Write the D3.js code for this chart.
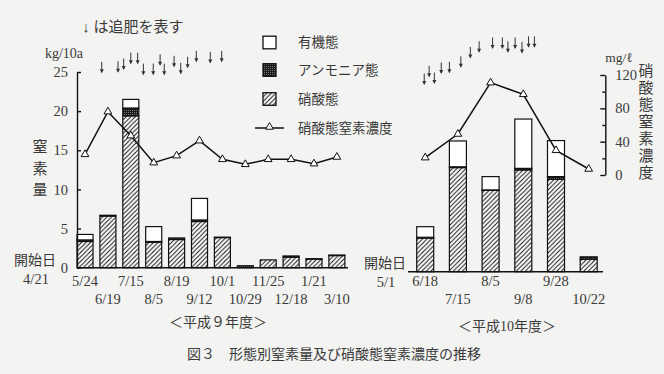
<!DOCTYPE html>
<html>
<head>
<meta charset="utf-8">
<script src="https://cdn.jsdelivr.net/npm/d3@7"></script>
<style>
  body { margin: 0; background: #f3f3f1; }
  svg { display: block; }
  text { font-family: "Liberation Serif", "Noto Sans CJK JP", serif; fill: #3a3a3a; }
</style>
</head>
<body>
<svg id="chart" width="664" height="374"></svg>
<script>
// 平成9年度
var datesH9 = ["5/24","6/19","7/15","8/5","8/19","9/12","10/1","10/29","11/25","12/18","1/21","3/10"];
var nitrateH9 = [3.35, 6.6, 19.4, 3.25, 3.6, 5.9, 3.85, 0, 1.0, 1.35, 1.1, 1.55];
var ammoniumH9 = [0.2, 0.1, 1.0, 0.1, 0.2, 0.2, 0.05, 0.25, 0, 0.15, 0.05, 0.07];
var organicH9 = [0.7, 0, 1.1, 1.9, 0, 2.75, 0, 0, 0, 0, 0, 0];
var concH9 = [24.8, 76, 47.2, 14.8, 23.2, 41.2, 18.8, 12.8, 18.8, 18.8, 13.6, 21.6];
// 追肥 (bar index position, height in kg units)
var fertPosH9 = [0.73, 1.44, 1.69, 2.0, 2.30, 2.55, 2.98, 3.28, 3.46, 3.89, 4.18, 4.48, 4.86, 5.47, 5.97];
var fertLvlH9 = [24.83, 24.9, 25.25, 26.0, 26.0, 24.6, 24.6, 25.8, 24.6, 25.6, 24.7, 25.47, 26.23, 26.1, 26.23];

// 平成10年度
var datesH10 = ["6/18","7/15","8/5","9/8","9/28","10/22"];
var nitrateH10 = [4.3, 13.3, 10.4, 13.0, 11.8, 1.6];
var ammoniumH10 = [0.1, 0.1, 0.05, 0.2, 0.35, 0.3];
var organicH10 = [1.35, 3.3, 1.7, 6.3, 4.6, 0];
var concH10 = [20.8, 49.2, 110.8, 96.8, 29.6, 7.2];
var fertPosH10 = [-0.03, 0.12, 0.28, 0.49, 0.74, 1.09, 1.38, 1.65, 2.06, 2.36, 2.53, 2.75, 2.96, 3.16, 3.34];
var fertLvlH10 = [23.84, 24.83, 23.97, 25.25, 25.34, 26.05, 27.25, 27.97, 28.44, 28.44, 27.97, 28.44, 27.89, 28.6, 28.6];

var kgTicks = [0, 5, 10, 15, 20, 25];
var concTicks = [0, 40, 80, 120];
var concMinor = [20, 60, 100];
var legendItems = ["有機態", "アンモニア態", "硝酸態", "硝酸態窒素濃度"];

var svg = d3.select('#chart');
var defs = svg.append('defs');

var hatch = defs.append('pattern').attr('id', 'hatch')
  .attr('patternUnits', 'userSpaceOnUse').attr('width', 4.5).attr('height', 4.5);
hatch.append('rect').attr('width', 4.5).attr('height', 4.5).attr('fill', '#fff');
hatch.append('path').attr('d', 'M-1,1 l2,-2 M0,4.5 l4.5,-4.5 M3.5,5.5 l2,-2')
  .attr('stroke', '#111').attr('stroke-width', 1);

var dots = defs.append('pattern').attr('id', 'dots')
  .attr('patternUnits', 'userSpaceOnUse').attr('width', 2).attr('height', 2);
dots.append('rect').attr('width', 2).attr('height', 2).attr('fill', '#1a1a1a');
dots.append('rect').attr('width', 1).attr('height', 1).attr('fill', '#777');

var fills = { nitrate: 'url(#hatch)', ammonium: 'url(#dots)', organic: '#fff' };
var keys = ['nitrate', 'ammonium', 'organic'];

var conc = d3.scaleLinear().domain([0, 120]).range([175, 75]);

function panel(dates, nitrate, ammonium, organic, cc, fertPos, fertLvl, xr, base, padIn, axisLine) {
  var x = d3.scaleBand().domain(dates).range(xr).paddingInner(padIn).paddingOuter(0);
  var y = d3.scaleLinear().domain([0, 25]).range([base, base - 195.7]);
  var rows = dates.map((d, i) => ({ date: d, nitrate: nitrate[i], ammonium: ammonium[i], organic: organic[i] }));
  var series = d3.stack().keys(keys)(rows);
  var g = svg.append('g');

  g.selectAll('g.s').data(series).enter().append('g')
    .attr('fill', s => fills[s.key])
    .selectAll('rect').data(s => s.filter(d => d[1] - d[0] > 0)).enter().append('rect')
    .attr('x', d => x(d.data.date))
    .attr('y', d => y(d[1]))
    .attr('width', x.bandwidth())
    .attr('height', d => y(d[0]) - y(d[1]))
    .attr('stroke', '#111').attr('stroke-width', 1.2);

  g.append('line').attr('x1', axisLine[0]).attr('x2', axisLine[1])
    .attr('y1', y(0)).attr('y2', y(0)).attr('stroke', '#111').attr('stroke-width', 1.4);

  // date labels, alternating rows
  g.selectAll('text.date').data(dates).enter().append('text')
    .attr('x', d => x(d) + x.bandwidth() / 2)
    .attr('y', (d, i) => i % 2 === 0 ? 281 : 299)
    .attr('text-anchor', 'middle').attr('dominant-baseline', 'central')
    .style('font-size', '14.5px').text(d => d);

  // concentration line
  var cx = (d, i) => x(dates[i]) + x.bandwidth() / 2;
  g.append('path').datum(cc)
    .attr('d', d3.line().x(cx).y(d => conc(d)))
    .attr('fill', 'none').attr('stroke', '#111').attr('stroke-width', 1.5);
  g.selectAll('path.tri').data(cc).enter().append('path')
    .attr('d', d3.symbol(d3.symbolTriangle, 26))
    .attr('transform', (d, i) => 'translate(' + cx(d, i) + ',' + conc(d) + ')')
    .attr('fill', '#fff').attr('stroke', '#111').attr('stroke-width', 1);

  // 追肥 arrows
  var ax = d3.scaleLinear().domain([0, 1]).range([x(dates[0]) + x.bandwidth() / 2, x(dates[1]) + x.bandwidth() / 2]);
  var arr = g.selectAll('g.arrow').data(fertPos).enter().append('g')
    .attr('transform', (d, i) => 'translate(' + ax(d) + ',' + y(fertLvl[i]) + ')');
  arr.append('line').attr('x1', 0).attr('x2', 0).attr('y1', -11.5).attr('y2', -1)
    .attr('stroke', '#333').attr('stroke-width', 1);
  arr.append('path').attr('d', 'M-2,-4 L0,0 L2,-4 Z').attr('fill', '#333');
  return { x: x, y: y };
}

var left = panel(datesH9, nitrateH9, ammoniumH9, organicH9, concH9, fertPosH9, fertLvlH9,
  [77, 344.9], 267.7, 0.3, [77, 348]);
var right = panel(datesH10, nitrateH10, ammoniumH10, organicH10, concH10, fertPosH10, fertLvlH10,
  [416.7, 597.2], 271.7, 0.48, [408, 603]);

// left axis
svg.append('g').attr('transform', 'translate(77,0)')
  .call(d3.axisLeft(left.y).tickValues(kgTicks).tickSizeInner(-4).tickSizeOuter(0).tickPadding(9))
  .call(g => g.selectAll('path,line').attr('stroke', '#111').attr('stroke-width', 1.4))
  .call(g => g.selectAll('text').style('font-size', '14.5px').style('font-family', '"Liberation Serif", serif').attr('fill', '#444'));

// right axis
svg.append('g').attr('transform', 'translate(605.3,0)')
  .call(d3.axisRight(conc).tickValues(concMinor).tickSizeInner(-3).tickSizeOuter(0).tickFormat(''))
  .call(g => g.selectAll('path,line').attr('stroke', '#111').attr('stroke-width', 1.4));
svg.append('g').attr('transform', 'translate(605.3,0)')
  .call(d3.axisRight(conc).tickValues(concTicks).tickSizeInner(-5).tickSizeOuter(0).tickPadding(10))
  .call(g => g.select('.domain').remove())
  .call(g => g.selectAll('line').attr('stroke', '#111').attr('stroke-width', 1.4))
  .call(g => g.selectAll('text').style('font-size', '14.5px').style('font-family', '"Liberation Serif", serif').attr('fill', '#555'));

// axis titles
svg.append('text').attr('x', 64).attr('y', 53).attr('text-anchor', 'middle')
  .attr('dominant-baseline', 'central').style('font-size', '14px').text('kg/10a');
svg.append('text').attr('x', 619).attr('y', 57).attr('text-anchor', 'middle')
  .attr('dominant-baseline', 'central').style('font-size', '13.5px').text('mg/ℓ');

svg.selectAll('text.vl').data('窒素量'.split('')).enter().append('text')
  .attr('x', 40).attr('y', (d, i) => 147 + i * 21.7)
  .attr('text-anchor', 'middle').attr('dominant-baseline', 'central')
  .style('font-size', '15px').text(d => d);
svg.selectAll('text.vr').data('硝酸態窒素濃度'.split('')).enter().append('text')
  .attr('x', 646).attr('y', (d, i) => 70.5 + i * 17.1)
  .attr('text-anchor', 'middle').attr('dominant-baseline', 'central')
  .style('font-size', '15px').text(d => d);

// start dates
[[35, 260, 279, '4/21'], [385, 263, 282, '5/1']].forEach(function (s) {
  svg.append('text').attr('x', s[0]).attr('y', s[1]).attr('text-anchor', 'middle')
    .attr('dominant-baseline', 'central').style('font-size', '14px').text('開始日');
  svg.append('text').attr('x', s[0] + 1).attr('y', s[2]).attr('text-anchor', 'middle')
    .attr('dominant-baseline', 'central').style('font-size', '14.5px').text(s[3]);
});

svg.append('text').attr('x', 133).attr('y', 27).attr('text-anchor', 'middle')
  .attr('dominant-baseline', 'central').style('font-size', '15px').attr('xml:space', 'preserve')
  .text('↓ は追肥を表す');

// legend
var lg = svg.append('g');
var lgy = [42.5, 70, 99, 128];
lg.selectAll('rect').data(keys.slice().reverse()).enter().append('rect')
  .attr('x', 263).attr('y', (d, i) => lgy[i] - 6.3).attr('width', 13).attr('height', 12.6)
  .attr('fill', d => fills[d]).attr('stroke', '#111').attr('stroke-width', 1.3);
lg.append('line').attr('x1', 255).attr('x2', 284).attr('y1', lgy[3]).attr('y2', lgy[3])
  .attr('stroke', '#111').attr('stroke-width', 1.5);
lg.append('path').attr('d', d3.symbol(d3.symbolTriangle, 26))
  .attr('transform', 'translate(269.5,' + (lgy[3] - 1) + ')')
  .attr('fill', '#fff').attr('stroke', '#111');
lg.selectAll('text').data(legendItems).enter().append('text')
  .attr('x', 298).attr('y', (d, i) => lgy[i])
  .attr('dominant-baseline', 'central').style('font-size', '13.5px').text(d => d);

// titles
svg.append('text').attr('x', 218).attr('y', 322).attr('text-anchor', 'middle')
  .attr('dominant-baseline', 'central').style('font-size', '14px').text('＜平成９年度＞');
svg.append('text').attr('x', 507).attr('y', 326).attr('text-anchor', 'middle')
  .attr('dominant-baseline', 'central').style('font-size', '14px').text('＜平成10年度＞');
svg.append('text').attr('x', 334).attr('y', 354).attr('text-anchor', 'middle')
  .attr('dominant-baseline', 'central').style('font-size', '14px').attr('xml:space', 'preserve')
  .text('図３　形態別窒素量及び硝酸態窒素濃度の推移');
</script>
</body>
</html>
